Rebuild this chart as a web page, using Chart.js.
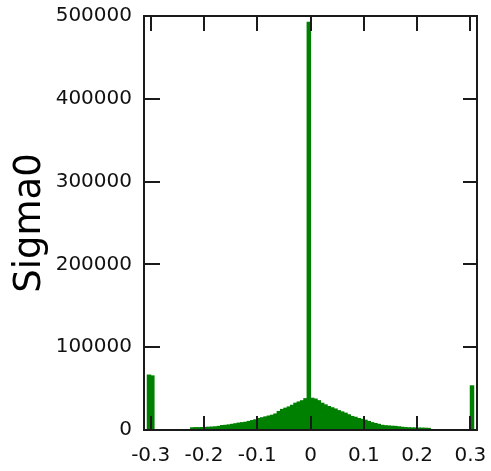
<!DOCTYPE html>
<html>
<head>
<meta charset="utf-8">
<script src="https://cdn.jsdelivr.net/npm/chart.js@4"></script>
<style>
html,body{margin:0;padding:0;background:#fff;}
#wrap{width:491px;height:471px;}
</style>
</head>
<body>
<div id="wrap"><canvas id="c" width="491" height="471"></canvas></div>
<script>
// histogram bins: 100 bins from -0.3125 to 0.3125
let binLo = -0.3125;
let binWidth = 0.00625;
let counts = [0,67000,66000,0,0,0,0,0,0,0,0,0,0,0,
3300,3500,3500,3600,3800,4000,4200,4500,5000,6000,
6300,6800,7500,8200,9000,9500,10000,11000,12000,13000,
14500,15500,16500,17500,18500,20000,23000,25500,27000,28500,
30500,33000,34500,36000,38500,493000,39000,38000,36000,33000,
31000,29000,27500,26000,24000,22500,21000,19000,17000,16000,
14500,13500,12500,11000,9500,8500,7500,6300,5800,5500,
5200,5000,4500,4000,3500,3300,3200,3100,3000,2900,
2800,2600,
0,0,0,0,0,0,0,0,0,0,0,0,
54000,0];
let xTicks = [-0.3,-0.2,-0.1,0,0.1,0.2,0.3];
let xTickLabels = ["-0.3","-0.2","-0.1","0","0.1","0.2","0.3"];
let yTicks = [0,100000,200000,300000,400000,500000];
let yTickLabels = ["0","100000","200000","300000","400000","500000"];
let yTitle = "Sigma0";

let points = counts.map((c,i)=>({x: binLo + (i+0.5)*binWidth, y: c}));

const frame = {
id:'frame',
afterDatasetsDraw(chart){
let ctx = chart.ctx;
let a = chart.chartArea;
let xs = chart.scales.x, ys = chart.scales.y;
ctx.save();
ctx.strokeStyle = '#1a1a1a';
ctx.lineWidth = 2;
ctx.beginPath();
xs.ticks.forEach((t,i)=>{
let px = Math.round(xs.getPixelForTick(i));
ctx.moveTo(px,a.bottom); ctx.lineTo(px,a.bottom-14);
ctx.moveTo(px,a.top); ctx.lineTo(px,a.top+15);
});
ys.ticks.forEach((t,i)=>{
let py = Math.round(ys.getPixelForTick(i));
ctx.moveTo(a.left,py); ctx.lineTo(a.left+16,py);
ctx.moveTo(a.right,py); ctx.lineTo(a.right-14,py);
});
ctx.stroke();
ctx.strokeRect(a.left,a.top,a.right-a.left,a.bottom-a.top);
ctx.restore();
}
};

new Chart(document.getElementById("c"),{
type:'bar',
data:{
datasets:[{
data:points,
backgroundColor:'#008000',
borderWidth:0,
barPercentage:1.35,
categoryPercentage:1
}]
},
options:{
responsive:false,
animation:false,
events:[],
layout:{padding:{top:16,right:14,left:0,bottom:0}},
plugins:{legend:{display:false},tooltip:{enabled:false}},
scales:{
x:{
type:'linear',
offset:false,
min:-0.3125,
max:0.3125,
grid:{display:false,offset:false},
border:{display:false},
afterBuildTicks(scale){ scale.ticks = xTicks.map(v=>({value:v})); },
afterFit(scale){ scale.height = 41; scale.paddingLeft = 0; scale.paddingRight = 0; },
ticks:{
autoSkip:false,maxRotation:0,padding:6,color:'#111',
font:{family:'DejaVu Sans',size:20},
callback:(v,i)=>xTickLabels[i]
}
},
y:{
min:0,
max:500000,
grid:{display:false},
border:{display:false},
afterBuildTicks(scale){ scale.ticks = yTicks.map(v=>({value:v})); },
afterFit(scale){ scale.width = 144; scale.paddingTop = 0; scale.paddingBottom = 0; },
ticks:{
padding:4,color:'#111',
font:{family:'DejaVu Sans',size:20},
callback:(v,i)=>yTickLabels[i]
},
title:{
display:true,text:yTitle,color:'#000',
font:{family:'DejaVu Sans',size:37},
padding:{top:8,bottom:2}
}
}
}
},
plugins:[frame]
});
</script>
</body>
</html>
